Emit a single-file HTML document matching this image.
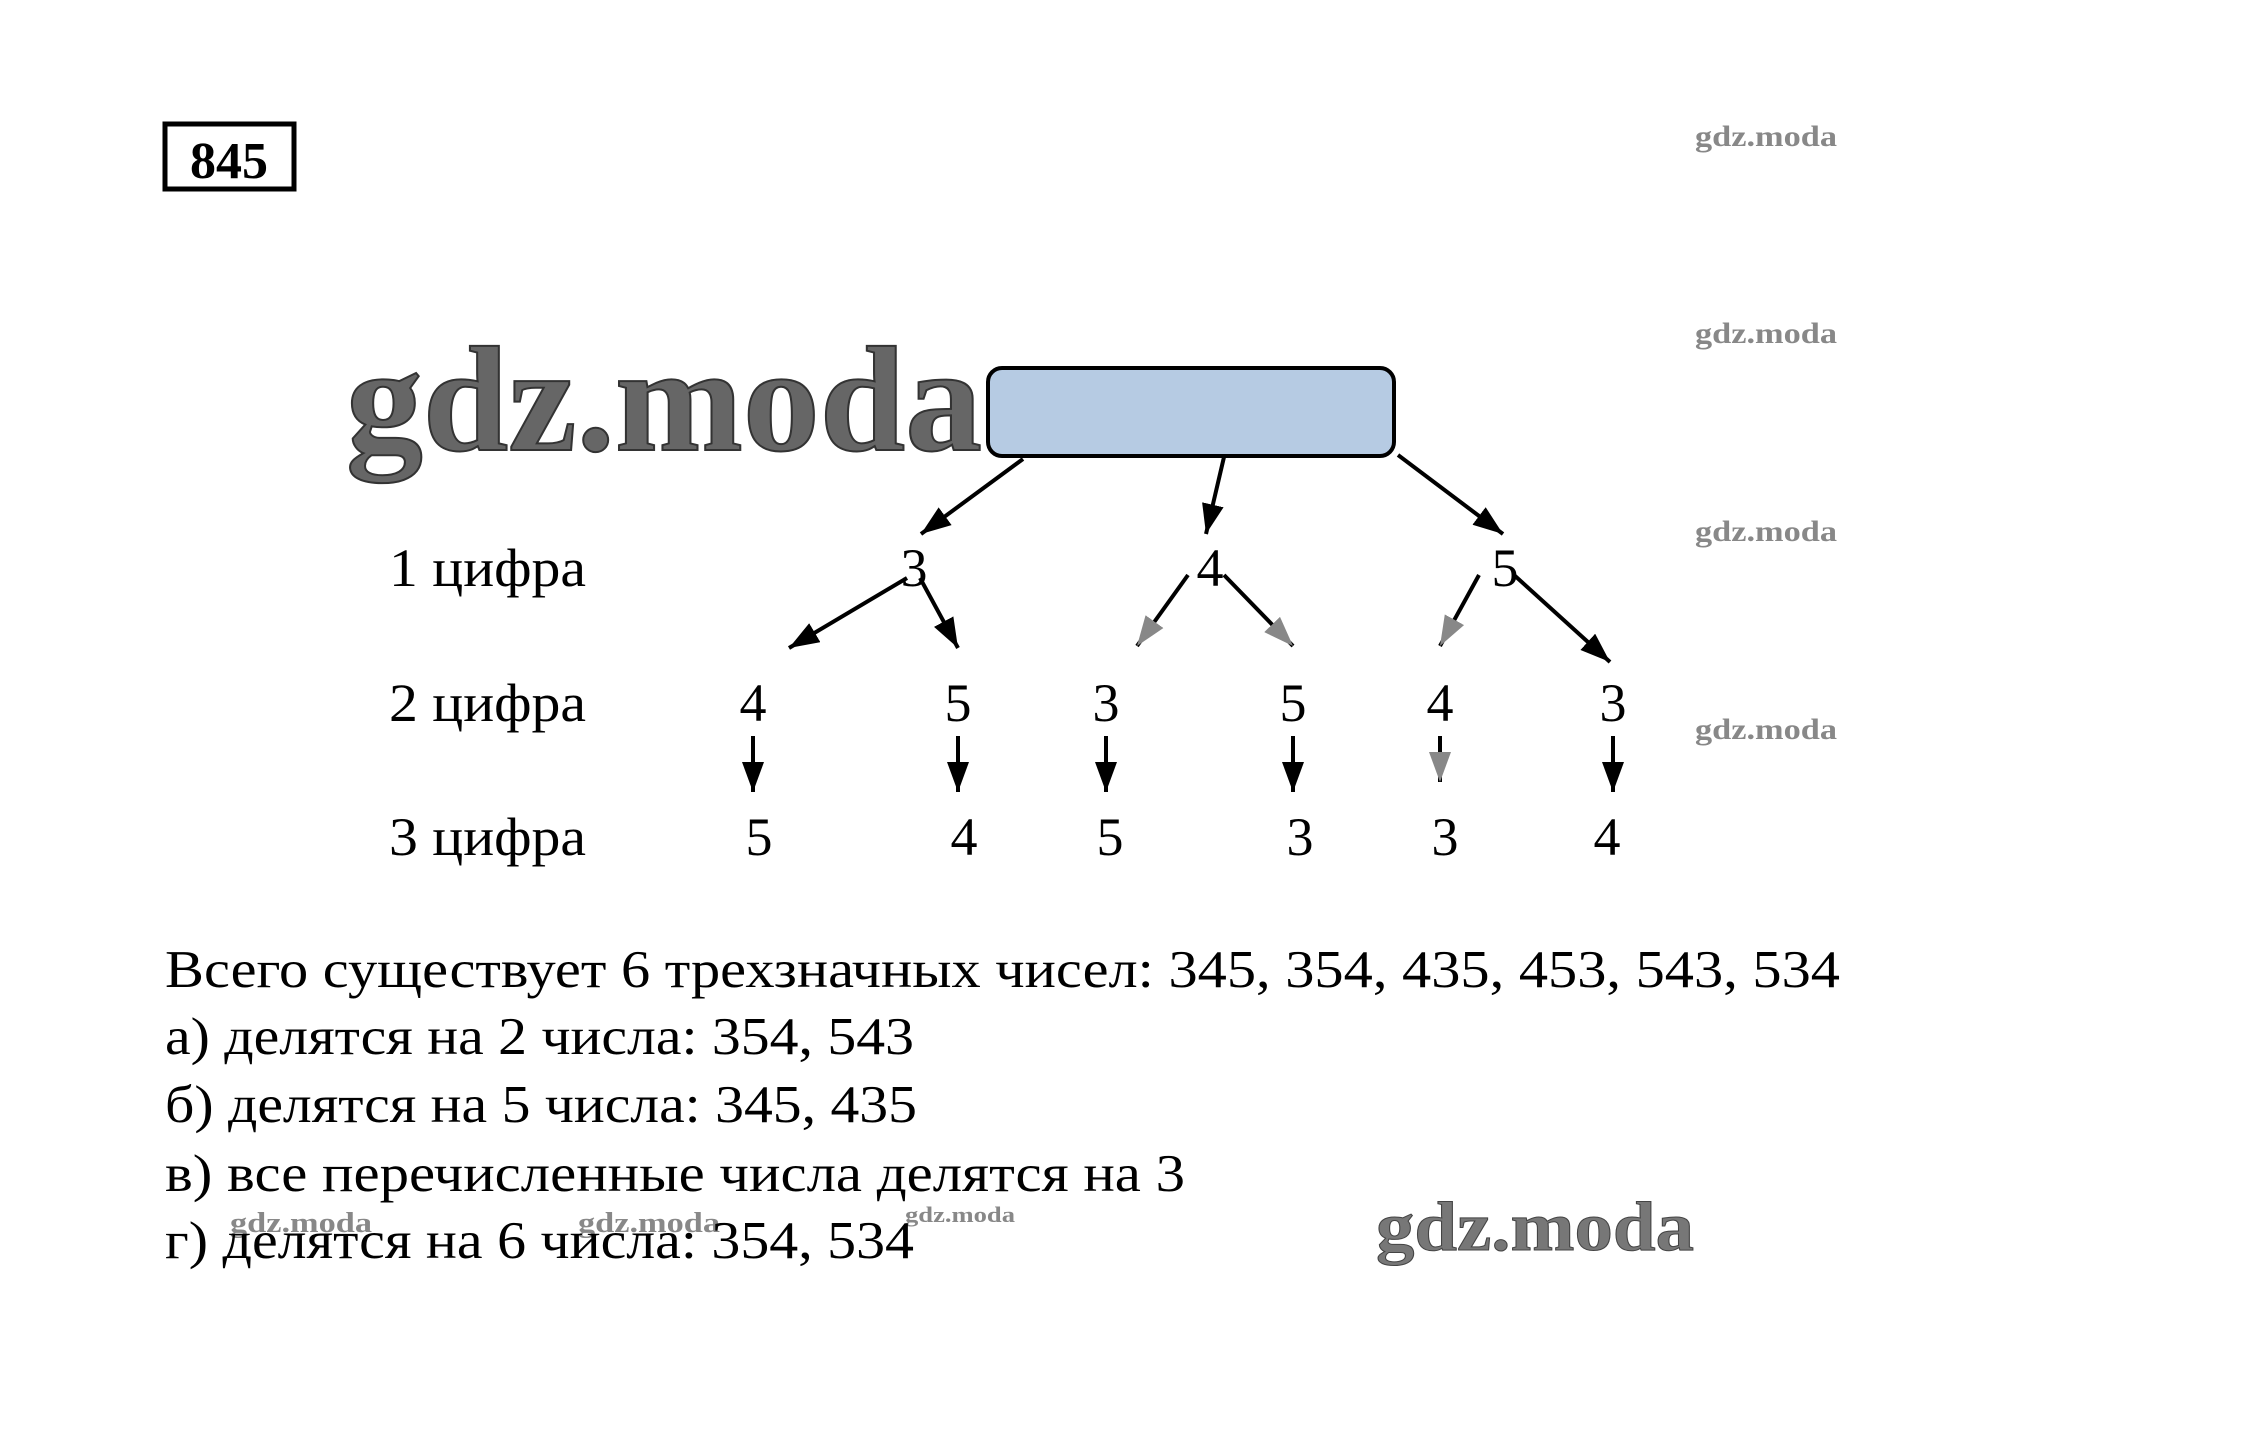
<!DOCTYPE html>
<html><head><meta charset="utf-8"><style>html,body{margin:0;padding:0;background:#fff}svg{display:block}</style></head>
<body>
<svg width="2265" height="1431" viewBox="0 0 2265 1431" xmlns="http://www.w3.org/2000/svg" font-family="Liberation Serif, serif">
<defs>
<marker id="ab" markerWidth="30" markerHeight="22" refX="10" refY="5" orient="auto" markerUnits="userSpaceOnUse" viewBox="0 0 10 10" preserveAspectRatio="none"><path d="M0,0 L10,5 L0,10 z" fill="#000"/></marker>
<marker id="ag" markerWidth="30" markerHeight="22" refX="10" refY="5" orient="auto" viewBox="0 0 10 10" markerUnits="userSpaceOnUse" preserveAspectRatio="none"><path d="M0,0 L10,5 L0,10 z" fill="#888"/></marker>
</defs>
<style>
.a{stroke:#000;stroke-width:4;fill:none}
.d{font-size:54px;fill:#000}
</style>
<rect x="165" y="124" width="129" height="65" fill="none" stroke="#000" stroke-width="5"/>
<text x="229" y="178" font-size="52" font-weight="bold" text-anchor="middle" fill="#000">845</text>
<g fill="#888" font-size="30" font-weight="bold">
<text x="1695" y="146" textLength="142" lengthAdjust="spacingAndGlyphs">gdz.moda</text>
<text x="1695" y="343" textLength="142" lengthAdjust="spacingAndGlyphs">gdz.moda</text>
<text x="1695" y="541" textLength="142" lengthAdjust="spacingAndGlyphs">gdz.moda</text>
<text x="1695" y="739" textLength="142" lengthAdjust="spacingAndGlyphs">gdz.moda</text>
<text x="230" y="1232" textLength="142" font-size="28" lengthAdjust="spacingAndGlyphs">gdz.moda</text>
<text x="578" y="1232" textLength="142" font-size="28" lengthAdjust="spacingAndGlyphs">gdz.moda</text>
<text x="905" y="1222" textLength="110" font-size="22" lengthAdjust="spacingAndGlyphs">gdz.moda</text>
</g>
<text x="346" y="450" font-size="150" font-weight="bold" fill="#666" stroke="#333" stroke-width="2" textLength="636" lengthAdjust="spacingAndGlyphs">gdz.moda</text>
<text x="1376" y="1250" font-size="70" font-weight="bold" fill="#777" stroke="#444" stroke-width="1" textLength="318" lengthAdjust="spacingAndGlyphs">gdz.moda</text>
<rect x="988" y="368" width="406" height="88" rx="14" fill="#b6cbe3" stroke="#000" stroke-width="4"/>
<line class="a" x1="1023" y1="459" x2="921" y2="534" marker-end="url(#ab)"/>
<line class="a" x1="1224" y1="457" x2="1206" y2="534" marker-end="url(#ab)"/>
<line class="a" x1="1398" y1="455" x2="1503" y2="534" marker-end="url(#ab)"/>
<g class="d">
<text x="389" y="586" textLength="197" lengthAdjust="spacingAndGlyphs">1 цифра</text>
<text x="389" y="721" textLength="197" lengthAdjust="spacingAndGlyphs">2 цифра</text>
<text x="389" y="855" textLength="197" lengthAdjust="spacingAndGlyphs">3 цифра</text>
</g>
<g class="d" text-anchor="middle">
<text x="914" y="586">3</text><text x="1210" y="586">4</text><text x="1505" y="586">5</text>
<text x="753" y="721">4</text><text x="958" y="721">5</text><text x="1106" y="721">3</text><text x="1293" y="721">5</text><text x="1440" y="721">4</text><text x="1613" y="721">3</text>
<text x="759" y="855">5</text><text x="964" y="855">4</text><text x="1110" y="855">5</text><text x="1300" y="855">3</text><text x="1445" y="855">3</text><text x="1607" y="855">4</text>
</g>
<line class="a" x1="907" y1="578" x2="789" y2="648" marker-end="url(#ab)"/>
<line class="a" x1="920" y1="578" x2="958" y2="648" marker-end="url(#ab)"/>
<line class="a" x1="1188" y1="575" x2="1137" y2="646" marker-end="url(#ag)"/>
<line class="a" x1="1224" y1="575" x2="1293" y2="646" marker-end="url(#ag)"/>
<line class="a" x1="1479" y1="575" x2="1440" y2="646" marker-end="url(#ag)"/>
<line class="a" x1="1514" y1="575" x2="1610" y2="662" marker-end="url(#ab)"/>
<line class="a" x1="753" y1="736" x2="753" y2="792" marker-end="url(#ab)"/>
<line class="a" x1="958" y1="736" x2="958" y2="792" marker-end="url(#ab)"/>
<line class="a" x1="1106" y1="736" x2="1106" y2="792" marker-end="url(#ab)"/>
<line class="a" x1="1293" y1="736" x2="1293" y2="792" marker-end="url(#ab)"/>
<line class="a" x1="1440" y1="736" x2="1440" y2="782" stroke="#888" marker-end="url(#ag)"/>
<line class="a" x1="1613" y1="736" x2="1613" y2="792" marker-end="url(#ab)"/>
<g font-size="53" fill="#000">
<text x="165" y="987" textLength="1675" lengthAdjust="spacingAndGlyphs">Всего существует 6 трехзначных чисел: 345, 354, 435, 453, 543, 534</text>
<text x="165" y="1054" textLength="749" lengthAdjust="spacingAndGlyphs">а) делятся на 2 числа: 354, 543</text>
<text x="165" y="1122" textLength="752" lengthAdjust="spacingAndGlyphs">б) делятся на 5 числа: 345, 435</text>
<text x="165" y="1191" textLength="1020" lengthAdjust="spacingAndGlyphs">в) все перечисленные числа делятся на 3</text>
<text x="165" y="1258" textLength="749" lengthAdjust="spacingAndGlyphs">г) делятся на 6 числа: 354, 534</text>
</g>
</svg>
</body></html>
